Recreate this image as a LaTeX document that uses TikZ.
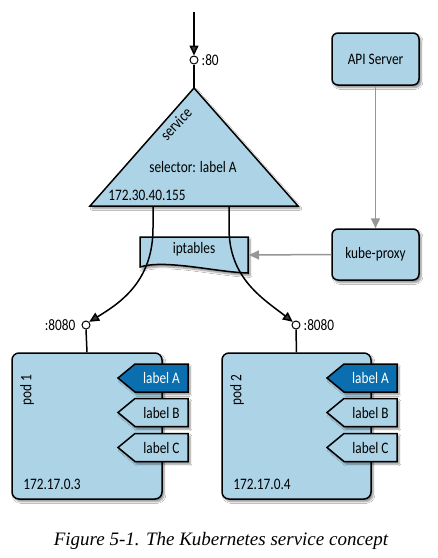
\documentclass[tikz,border=0pt]{standalone}
\usepackage{fontspec}
\setmainfont{Liberation Serif}
\newfontfamily\diag[FakeStretch=0.83]{Carlito}
\usetikzlibrary{arrows.meta,shadows.blur}
\definecolor{lblue}{RGB}{172,211,230}
\definecolor{dblue}{RGB}{10,110,175}
\definecolor{arrgray}{RGB}{150,150,150}
\tikzset{
  shad/.style={blur shadow={shadow xshift=2pt,shadow yshift=-2.5pt,shadow blur steps=6,shadow opacity=45}},
  box/.style={draw, line width=1.5pt, fill=lblue, rounded corners=6pt, shad},
  port/.style={circle, draw, fill=white, line width=1pt, inner sep=0pt, minimum size=8pt},
  conn/.style={line width=1.5pt, -{Triangle[length=10pt,width=9pt]}},
  grayarr/.style={draw=arrgray, line width=1.5pt, -{Triangle[length=10pt,width=9pt]}},
  tagshape/.style={draw, line width=1.5pt, line join=miter, shad},
  lbl/.style={inner sep=1pt}
}
\newcommand{\podtag}[6]{%
  \path[tagshape, fill=#4] (#2,#3) -- ++(17,-14) -- ++(53,0) -- ++(0,28) -- ++(-53,0) -- cycle;
  \node[lbl, text=#5] (#1) at ({#2+43.5},#3) {#6};}
\begin{document}
\begin{tikzpicture}[x=1pt,y=-1pt, font=\diag\fontsize{16}{18}\selectfont]
\useasboundingbox[fill=white] (0,0) rectangle (438,558);

% API server and kube-proxy
\node[box, minimum width=87pt, minimum height=52pt] (api) at (375.5,59) {API Server};
\node[box, minimum width=87pt, minimum height=51pt] (kp) at (375.5,254.5) {kube-proxy};

% pods
\node[box, rounded corners=7pt, minimum width=150pt, minimum height=146pt] (pod1) at (87,426) {};
\node[box, rounded corners=7pt, minimum width=149pt, minimum height=146pt] (pod2) at (296.5,426) {};
\node[lbl, rotate=90] (pod1t) at (27,390) {pod 1};
\node[lbl, rotate=90] (pod2t) at (237,390) {pod 2};
\node[lbl] (ip1) at (52,484) {172.17.0.3};
\node[lbl] (ip2) at (262,484) {172.17.0.4};

\podtag{a1}{118}{378}{dblue}{white}{label A}
\podtag{b1}{118}{412.5}{lblue}{black}{label B}
\podtag{c1}{118}{447.5}{lblue}{black}{label C}
\podtag{a2}{327}{378}{dblue}{white}{label A}
\podtag{b2}{327}{412.5}{lblue}{black}{label B}
\podtag{c2}{327}{447.5}{lblue}{black}{label C}

% service triangle
\coordinate (apex) at (194,88);
\coordinate (bl) at (90,206);
\coordinate (br) at (298,206);
\path[draw, line width=1.5pt, fill=lblue, shad] (apex) -- (br) -- (bl) -- cycle;
\node[lbl, rotate=47] (svc) at (176,124) {service};
\node[lbl] (sel) at (193,167) {selector: label A};
\node[lbl] (sip) at (147,195) {172.30.40.155};

% ports
\node[port] (p80) at (194,60) {};
\node[port] (p1) at (86,325) {};
\node[port] (p2) at (296,325) {};
\node[lbl, anchor=west, xshift=2pt] (l80) at (p80.east) {:80};
\node[lbl, anchor=east, xshift=-5pt] (l1) at (p1.west) {:8080};
\node[lbl, anchor=west, xshift=2pt] (l2) at (p2.east) {:8080};

\coordinate (top) at (194,12);
\draw[conn] (top) -- (p80.north);
\draw[line width=1.5pt] (p80.south) -- (apex);
\draw[line width=1.5pt] (p1.south) -- (pod1.north);
\draw[line width=1.5pt] (p2.south) -- (pod2.north);

% iptables
\path[draw, line width=1.5pt, fill=lblue, shad] (140,237) -- (248,237) -- (248,273)
  .. controls (215,272) and (165,259) .. (140,267) -- cycle;
\node[lbl] (ipt) at (194,249) {iptables};
\coordinate (iptr) at (249,255);

% connectors
\coordinate (tl) at (153,206);
\coordinate (tr) at (229,206);
\draw[conn] (tl) -- (153,228) .. controls (153,280) and (122,302) .. (p1.45);
\draw[conn] (tr) -- (229,228) .. controls (229,278) and (262,298) .. (p2.135);
\draw[grayarr] (api.south) -- (kp.north);
\draw[grayarr] (kp.west) -- (iptr);

% caption
\node[font=\rmfamily\itshape\fontsize{19}{22}\selectfont, inner sep=0pt] (cap) at (221,541) {Figure 5-1. The Kubernetes service concept};
\end{tikzpicture}
\end{document}
